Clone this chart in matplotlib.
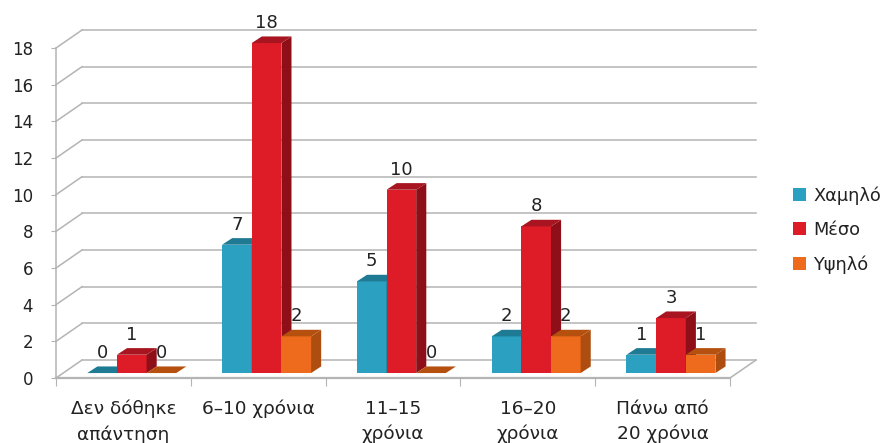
import numpy as np
from matplotlib import pyplot as plt
from matplotlib.patches import Patch, Polygon

plt.rcParams['font.family'] = ['DejaVu Sans']

categories = ['Δεν δόθηκε\nαπάντηση', '6–10 χρόνια', '11–15\nχρόνια', '16–20\nχρόνια', 'Πάνω από\n20 χρόνια']
series_names = ['Χαμηλό', 'Μέσο', 'Υψηλό']
low = [0, 7, 5, 2, 1]
mid = [1, 18, 10, 8, 3]
high = [0, 2, 0, 2, 1]

front = ['#2ba0c0', '#dd1c28', '#ee6a1c']
side = ['#1d7288', '#8f0f18', '#ad4e10']
top = ['#1f7a94', '#a8141f', '#b5500f']
grid = '#b4b4b4'

# depth of the fake 3d box, in data units
depth_x = 0.193
depth_y = 0.98
bar_w = 0.22
bar_dx = 0.232
bar_dy = 0.27
bar_depth_x = 0.075
bar_depth_y = 0.36

fig = plt.figure(figsize=(8.86, 4.43), dpi=100)
ax = fig.add_axes([56 / 886, 1 - 378 / 443, 674 / 886, 330 / 443])
ax.set_xlim(0, 5)
ax.set_ylim(0, 18)


def draw_bar(ax, x, v, i):
    y0 = bar_dy
    y1 = v + bar_dy
    x1 = x + bar_w
    ddx = bar_depth_x
    ddy = bar_depth_y
    if v > 0:
        ax.add_patch(Polygon([(x, y0), (x1, y0), (x1, y1), (x, y1)], fc=front[i], ec='none', zorder=3, clip_on=False))
        ax.add_patch(Polygon([(x1, y0), (x1 + ddx, y0 + ddy), (x1 + ddx, y1 + ddy), (x1, y1)], fc=side[i], ec='none', zorder=3, clip_on=False))
    ax.add_patch(Polygon([(x, y1), (x1, y1), (x1 + ddx, y1 + ddy), (x + ddx, y1 + ddy)], fc=top[i], ec='none', zorder=3, clip_on=False))
    ax.text(x + bar_w / 2, v + bar_dy + 1.1, str(v), ha='center', va='center', fontsize=13, color='#222222', zorder=5, clip_on=False)


# back wall and side wall lines
yticks = np.arange(0, 19, 2)
for v in yticks:
    ax.plot([depth_x, 5 + depth_x], [v + depth_y, v + depth_y], color=grid, lw=1.1, zorder=1, clip_on=False)
    ax.plot([0, depth_x], [v, v + depth_y], color=grid, lw=1.1, zorder=1, clip_on=False)
ax.plot([5, 5 + depth_x], [0, depth_y], color=grid, lw=1.1, zorder=1, clip_on=False)

for g in range(len(categories)):
    for i, vals in enumerate([low, mid, high]):
        draw_bar(ax, g + bar_dx + i * bar_w, vals[g], i)

for s in ['top', 'right']:
    ax.spines[s].set_visible(False)
for s in ['left', 'bottom']:
    ax.spines[s].set_color(grid)
ax.spines['left'].set_linewidth(1.1)
ax.spines['bottom'].set_linewidth(1.6)
ax.patch.set_alpha(0)

ax.set_yticks(yticks)
ax.set_xticks(np.arange(0, 6))
ax.set_xticklabels([])
ax.set_xticks(np.arange(0.5, 5), labels=categories, minor=True)
ax.tick_params(axis='y', length=3.6, color=grid, labelsize=12, labelcolor='#222222', pad=13)
ax.tick_params(axis='x', which='major', length=6, color=grid)
ax.tick_params(axis='x', which='minor', length=0, labelsize=13.3, labelcolor='#222222', pad=15.5)
for lab in ax.get_xticklabels(minor=True):
    lab.set_linespacing(1.5)

handles = [Patch(fc=front[i], ec='none', label=series_names[i]) for i in range(3)]
fig.legend(handles=handles, loc='center left', bbox_to_anchor=(793 / 886, 1 - 230 / 443), frameon=False,
           fontsize=12.8, labelcolor='#222222', handlelength=0.75, handleheight=0.75, handletextpad=0.4,
           labelspacing=0.92, borderpad=0, borderaxespad=0)

fig.savefig('out.png', dpi=100)
